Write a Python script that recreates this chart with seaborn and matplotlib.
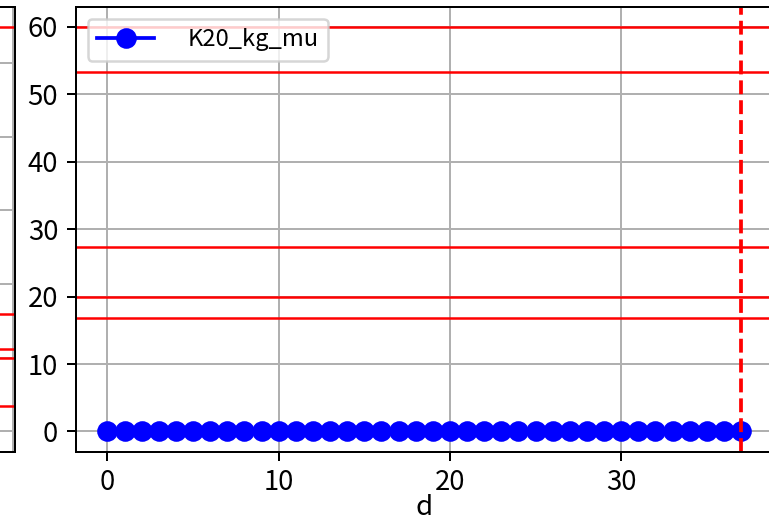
import matplotlib
matplotlib.use("Agg")
import matplotlib.pyplot as plt
import numpy as np
import pandas as pd
import seaborn as sns

# series shown in the visible panel
d_values = list(range(38))
k20_kg_mu = [0.0] * 38
series_label = "K20_kg_mu"

# reference levels (red lines) and the end marker (dashed)
main_levels = [60.0, 53.3, 27.3, 20.0, 16.8]
end_d = 37

# neighbouring panel, only its right edge is in view
left_levels = [54.9, 16.0, 11.2, 10.0, 3.4]
left_yticks = [0, 10, 20, 30, 40, 50]

plt.rcParams['font.family'] = ['Noto Sans CJK JP', 'DejaVu Sans']
plt.rcParams['font.size'] = 11

fig = plt.figure(figsize=(769 / 180, 522 / 180), dpi=180)

# left (cut-off) panel
ax0 = fig.add_axes([0.0189 - 0.8, 0.1347, 0.8, 0.8525])
for lv in left_levels:
    ax0.axhline(lv, color='red', lw=1.0)
ax0.set_ylim(-2.75, 57.65)
ax0.set_yticks(left_yticks)
ax0.set_xlim(0, 1)
ax0.set_xticks([0.997])
ax0.tick_params(axis='x', length=0, labelbottom=False)
ax0.tick_params(axis='y', labelleft=False)
ax0.grid(True, color='#b0b0b0', lw=0.8)
ax0.set_axisbelow(True)

# main panel
ax = fig.add_axes([0.0985, 0.1347, 0.9064, 0.8525])
df = pd.DataFrame({'d': d_values, 'value': k20_kg_mu})
sns.lineplot(data=df, x='d', y='value', ax=ax, color='blue', marker='o',
             markersize=7.5, markeredgecolor='blue', lw=1.5, label=series_label)
for lv in main_levels:
    ax.axhline(lv, color='red', lw=1.0)
ax.axvline(end_d, color='red', lw=1.5, ls='--')
ax.set_xticks([0, 10, 20, 30])
ax.set_xlabel('d', labelpad=-1)
ax.set_ylabel('')
ax.grid(True, color='#b0b0b0', lw=0.8)
ax.set_axisbelow(True)
ax.legend(loc='upper left', fontsize=9.5, handlelength=2.4, handletextpad=1.4)

fig.savefig('out.png', dpi=180)
